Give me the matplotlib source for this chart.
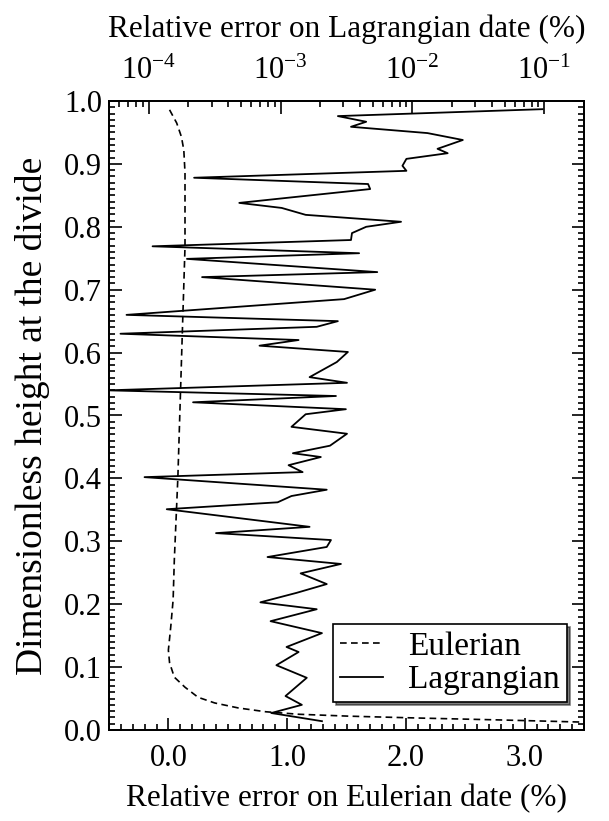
import matplotlib
matplotlib.use("Agg")
import matplotlib.pyplot as plt
from matplotlib.ticker import MultipleLocator, FormatStrFormatter, LogLocator, NullFormatter, LogFormatterMathtext

plt.rcParams['font.family'] = ['Liberation Serif', 'DejaVu Serif']
plt.rcParams['mathtext.fontset'] = 'stix'

# Eulerian relative error (%) vs dimensionless height
eul_height = [0.986, 0.965, 0.943, 0.922, 0.886, 0.768, 0.647, 0.402, 0.270, 0.207,
              0.164, 0.127, 0.107, 0.084, 0.068, 0.052, 0.043, 0.035, 0.029, 0.025,
              0.022, 0.019, 0.016, 0.012]
eul_error = [0.01, 0.07, 0.11, 0.13, 0.14, 0.14, 0.12, 0.08, 0.05, 0.04,
             0.02, 0.00, 0.01, 0.05, 0.14, 0.25, 0.39, 0.59, 0.82, 1.10,
             1.52, 2.11, 2.79, 3.60]

# Lagrangian relative error (%) vs dimensionless height
lag_height = [0.987, 0.976, 0.967, 0.959, 0.949, 0.938, 0.924, 0.917, 0.908, 0.897,
              0.889, 0.878, 0.868, 0.860, 0.838, 0.830, 0.819, 0.808, 0.800, 0.790,
              0.779, 0.769, 0.758, 0.749, 0.728, 0.720, 0.700, 0.685, 0.660, 0.650,
              0.641, 0.630, 0.620, 0.611, 0.601, 0.585, 0.561, 0.552, 0.540, 0.531,
              0.521, 0.510, 0.502, 0.482, 0.471, 0.452, 0.440, 0.434, 0.421, 0.410,
              0.402, 0.382, 0.372, 0.362, 0.351, 0.323, 0.313, 0.302, 0.291, 0.275,
              0.264, 0.249, 0.232, 0.218, 0.203, 0.192, 0.173, 0.154, 0.132, 0.124,
              0.103, 0.083, 0.054, 0.040, 0.027, 0.014]
lag_error = [9.7e-2, 2.72e-3, 4.46e-3, 3.42e-3, 1.30e-2, 2.41e-2, 1.55e-2, 1.85e-2, 9.0e-3, 8.4e-3,
             9.0e-3, 2.21e-4, 4.61e-3, 4.78e-3, 4.86e-4, 1.02e-3, 1.55e-3, 8.2e-3, 4.46e-3, 3.48e-3,
             3.42e-3, 1.07e-4, 3.94e-3, 1.95e-4, 5.41e-3, 2.54e-4, 5.22e-3, 3.03e-3, 6.79e-5, 2.72e-3,
             1.88e-3, 6.11e-5, 1.37e-3, 6.92e-4, 3.24e-3, 2.67e-3, 1.66e-3, 3.19e-3, 4.9e-5, 2.63e-3,
             2.17e-4, 3.13e-3, 1.55e-3, 1.21e-3, 3.19e-3, 2.37e-3, 1.24e-3, 2.02e-3, 1.15e-3, 1.47e-3,
             9.3e-5, 2.24e-3, 1.21e-3, 9.5e-4, 1.37e-4, 1.66e-3, 3.24e-4, 2.41e-3, 2.24e-3, 7.96e-4,
             2.87e-3, 1.42e-3, 2.24e-3, 1.32e-3, 7.03e-4, 1.88e-3, 8.4e-4, 2.06e-3, 1.11e-3, 1.37e-3,
             9.3e-4, 1.58e-3, 1.09e-3, 1.45e-3, 8.5e-4, 2.06e-3]

TICK_FS = 22
LABEL_FS = 22.5
YLABEL_FS = 27
LEGEND_FS = 24

fig = plt.figure(figsize=(6.09, 8.21), dpi=100)
ax = fig.add_axes([109/609, 1 - 730/821, 475/609, 629/821])
ax2 = ax.twiny()

l1, = ax.plot(eul_error, eul_height, color='black', lw=1.2, ls=(0, (4.0, 2.6)), label='Eulerian')
l2, = ax2.plot(lag_error, lag_height, color='black', lw=1.3, ls='-', label='Lagrangian')

ax.set_xlim(-0.5, 3.5)
ax.set_ylim(0, 1)
ax2.set_xscale('log')
ax2.set_xlim(5e-5, 0.2)

ax.xaxis.set_major_locator(MultipleLocator(1.0))
ax.xaxis.set_minor_locator(MultipleLocator(0.1))
ax.xaxis.set_major_formatter(FormatStrFormatter('%.1f'))
ax.yaxis.set_major_locator(MultipleLocator(0.1))
ax.yaxis.set_minor_locator(MultipleLocator(0.01))
ax.yaxis.set_major_formatter(FormatStrFormatter('%.1f'))

ax2.xaxis.set_major_locator(LogLocator(base=10))
ax2.xaxis.set_minor_locator(LogLocator(base=10, subs=[2, 3, 4, 5, 6, 7, 8, 9]))
ax2.xaxis.set_minor_formatter(NullFormatter())
ax2.xaxis.set_major_formatter(LogFormatterMathtext())

ax.tick_params(which='both', direction='in', top=False, right=True, width=1.2, labelsize=TICK_FS)
ax.tick_params(axis='x', which='major', length=9, pad=10)
ax.tick_params(axis='x', which='minor', length=4.5)
ax.tick_params(axis='y', which='major', length=9, pad=5)
ax.tick_params(axis='y', which='minor', length=4.5)
ax2.tick_params(which='both', direction='in', top=True, bottom=False, width=1.2, labelsize=TICK_FS)
ax2.tick_params(which='major', length=9, pad=11)
ax2.tick_params(which='minor', length=4.5)

for a in (ax, ax2):
    for sp in a.spines.values():
        sp.set_linewidth(1.3)

ax.set_xlabel('Relative error on Eulerian date (%)', fontsize=LABEL_FS, labelpad=8)
ax2.set_xlabel('Relative error on Lagrangian date (%)', fontsize=LABEL_FS, labelpad=14)
ax.set_ylabel('Dimensionless height at the divide', fontsize=YLABEL_FS, labelpad=10)

leg = ax2.legend([l1, l2], ['Eulerian', 'Lagrangian'], loc='lower right',
                 bbox_to_anchor=(0.964, 0.0445), borderaxespad=0, fontsize=LEGEND_FS,
                 frameon=True, fancybox=False, shadow={'color': 'black'},
                 handlelength=1.3, handletextpad=0.75, borderpad=0.2, labelspacing=0.1)
leg.get_frame().set_edgecolor('black')
leg.get_frame().set_linewidth(1.2)
leg.get_frame().set_alpha(1.0)

fig.savefig('out.png', dpi=100)
